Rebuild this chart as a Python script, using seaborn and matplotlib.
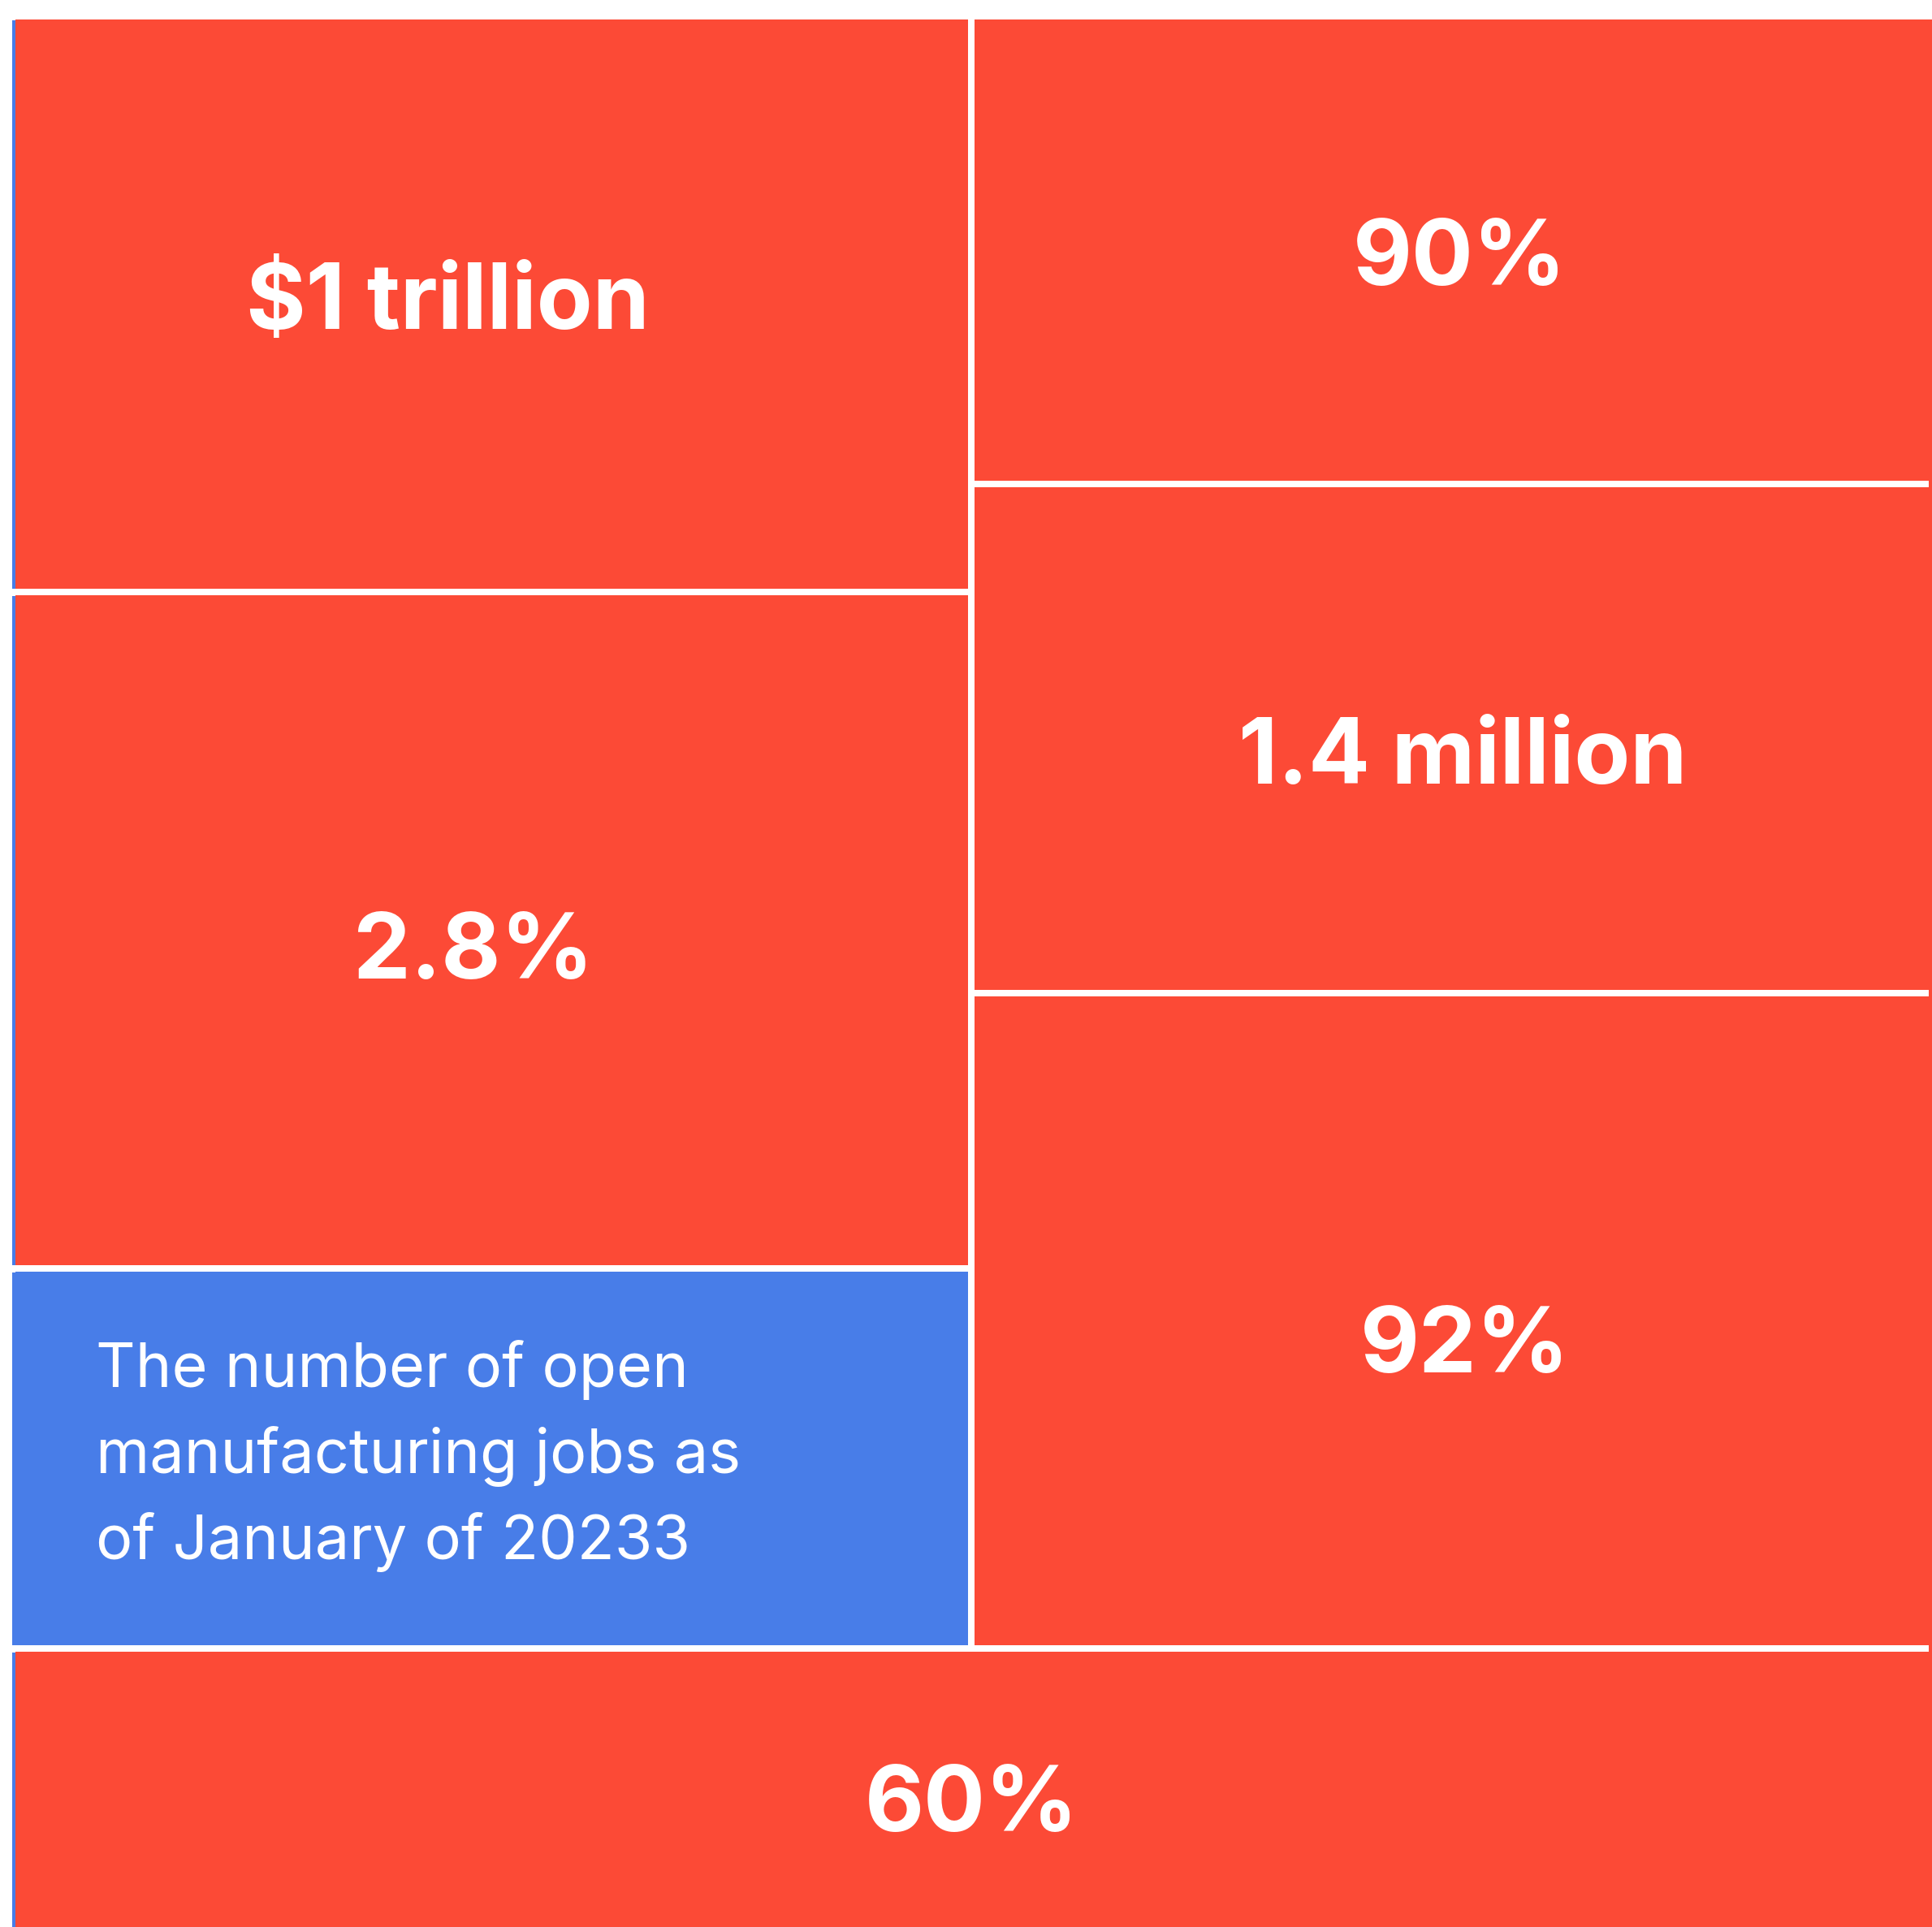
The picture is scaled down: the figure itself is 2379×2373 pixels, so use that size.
import matplotlib
matplotlib.use("Agg")
import matplotlib.pyplot as plt
import seaborn as sns

# ---- data -------------------------------------------------------------
labels = ["$1 trillion", "2.8%",
          "The number of open\nmanufacturing jobs as\nof January of 20233",
          "90%", "1.4 million", "92%", "60%"]
sizes = [15.0, 17.6, 9.9, 12.2, 13.3, 17.1, 15.0]
groups = ["left", "left", "left", "right", "right", "right", "bottom"]
highlight = [False, False, True, False, False, False, False]

# label anchor inside each cell (fraction of width, fraction of height to baseline)
label_fx = [0.454, 0.481, None, 0.509, 0.512, 0.514, 0.500]
label_fy = [0.543, 0.572, None, 0.576, 0.590, 0.580, 0.639]

# ---- style ------------------------------------------------------------
sns.set_theme(style="white")
plt.rcParams["font.family"] = ["Inter", "DejaVu Sans"]
red, blue = sns.color_palette(["#FC4A36", "#487DE8"])

FIG_W, FIG_H = 2379, 2373
SIDE = 2364                  # treemap side in pixels
px = 1.0 / SIDE              # one pixel in layout units
gap = 4 * px                 # half of the white gutter between cells


def layout(sizes, groups):
    """Slice-and-dice: a full-width bottom band, above it two stacked columns."""
    total = sum(sizes)
    bottom_sum = sum(s for s, g in zip(sizes, groups) if g == "bottom")
    left_sum = sum(s for s, g in zip(sizes, groups) if g == "left")
    right_sum = sum(s for s, g in zip(sizes, groups) if g == "right")
    top_h = (total - bottom_sum) / total
    left_w = left_sum / (left_sum + right_sum)
    rects = []
    cursor = {"left": 0.0, "right": 0.0, "bottom": 0.0}
    for s, g in zip(sizes, groups):
        if g == "bottom":
            w = s / bottom_sum
            rects.append((cursor[g], top_h, w, 1.0 - top_h))
            cursor[g] += w
        else:
            col_sum = left_sum if g == "left" else right_sum
            x0 = 0.0 if g == "left" else left_w
            w = left_w if g == "left" else 1.0 - left_w
            h = top_h * s / col_sum
            rects.append((x0, cursor[g], w, h))
            cursor[g] += h
    return rects


rects = layout(sizes, groups)

fig = plt.figure(figsize=(FIG_W / 100, FIG_H / 100), dpi=100)
ax = fig.add_axes([0, 0, 1, 1])
ax.set_xlim(-15 * px, (FIG_W - 15) * px)
ax.set_ylim((FIG_H - 20) * px, -20 * px)
ax.axis("off")

# thin red rim along the right edge of the map
ax.bar(1.0 - gap, 1.0 - gap, width=gap, bottom=gap, align="edge",
       color=red, linewidth=0)

for (x0, y0, w, h), lab, hi, fx, fy in zip(rects, labels, highlight, label_fx, label_fy):
    color = blue if hi else red
    ax.bar(x0 + gap, h - 2 * gap, width=w - 2 * gap, bottom=y0 + gap,
           align="edge", color=color, linewidth=0)
    if x0 == 0.0:
        # blue rim on cells that touch the left edge
        ax.bar(x0, h - 2 * gap - px, width=gap, bottom=y0 + gap + px,
               align="edge", color=blue, linewidth=0)

    cx0, cy0 = x0 + gap, y0 + gap
    cw, ch = w - 2 * gap, h - 2 * gap
    if hi:
        lines = lab.split("\n")
        first = cy0 + 142 * px
        for i, line in enumerate(lines):
            ax.text(cx0 + 99 * px, first + i * 106 * px, line,
                    ha="left", va="baseline", color="white",
                    fontsize=54.4, fontweight="normal")
    else:
        ax.text(cx0 + fx * cw, cy0 + fy * ch, lab,
                ha="center", va="baseline", color="white",
                fontsize=81, fontweight="bold")

fig.savefig("out.png", dpi=100, facecolor="white")
